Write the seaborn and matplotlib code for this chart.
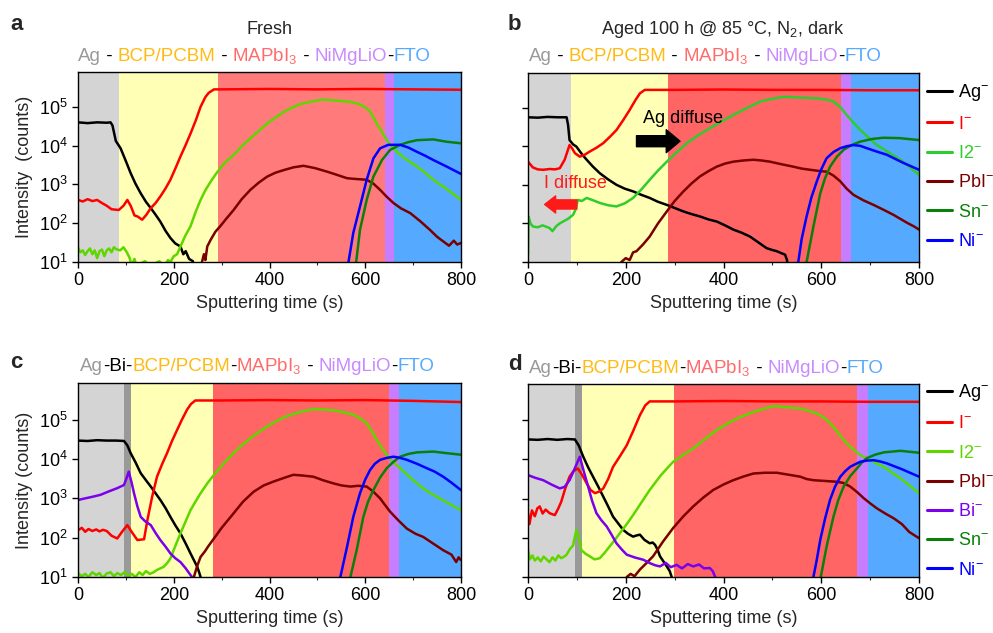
import numpy as np
import pandas as pd
import matplotlib
matplotlib.use("Agg")
import matplotlib.pyplot as plt
import seaborn as sns
from matplotlib.ticker import LogLocator, NullLocator, MultipleLocator
from matplotlib.offsetbox import TextArea, HPacker, AnchoredOffsetbox

# --- data: (time s, log10 counts) ---
A_AG = [(0,4.60),(20,4.58),(40,4.60),(60,4.59),(68,4.60),(72,4.52),(79,4.12),(89,3.93),(100,3.60),(110,3.29),(120,3.02),(131,2.77),(142,2.55),(152,2.39),(162,2.22),(172,2.04),(183,1.80),(193,1.62),(203,1.48),(214,1.40),(220,1.20),(225,1.28),(232,1.08),(240,1.02),(245,0.5)]
A_I = [(0,2.60),(10,2.56),(20,2.62),(30,2.57),(40,2.60),(50,2.52),(60,2.45),(70,2.36),(85,2.34),(95,2.45),(103,2.60),(110,2.45),(118,2.20),(125,2.17),(134,2.09),(143,2.22),(152,2.39),(162,2.52),(172,2.69),(183,2.90),(193,3.12),(203,3.40),(214,3.72),(225,4.02),(235,4.31),(246,4.65),(256,5.00),(266,5.25),(273,5.36),(284,5.45),(300,5.45),(400,5.46),(500,5.45),(600,5.46),(700,5.45),(800,5.44)]
A_I2 = [(0,1.37),(5,1.25),(10,1.30),(15,1.18),(20,1.28),(25,1.35),(30,1.20),(35,1.30),(40,1.10),(45,1.28),(50,1.32),(55,1.15),(60,1.30),(65,1.35),(70,1.25),(75,1.38),(80,1.33),(88,1.30),(95,1.38),(102,1.25),(108,1.10),(112,0.9),(118,1.08),(122,0.9),(140,1.02),(150,0.9),(170,1.02),(180,0.9),(188,1.05),(193,1.0),(200,1.15),(207,1.2),(214,1.40),(225,1.70),(235,1.92),(246,2.30),(256,2.60),(266,2.85),(277,3.07),(287,3.25),(297,3.42),(310,3.60),(325,3.76),(342,3.98),(360,4.19),(378,4.38),(395,4.57),(412,4.72),(430,4.87),(447,4.98),(464,5.07),(490,5.14),(513,5.19),(540,5.16),(569,5.13),(590,5.06),(603,4.96),(610,4.88),(624,4.57),(635,4.35),(645,4.14),(655,3.98),(666,3.84),(685,3.65),(708,3.46),(725,3.30),(742,3.12),(770,2.88),(800,2.60)]
A_PBI = [(255,0.5),(259,1.0),(263,1.2),(266,1.05),(270,1.4),(277,1.57),(287,1.78),(297,1.92),(310,2.12),(325,2.34),(342,2.62),(360,2.86),(378,3.05),(395,3.20),(412,3.30),(430,3.37),(450,3.44),(471,3.48),(495,3.42),(520,3.33),(540,3.25),(562,3.16),(580,3.14),(603,3.12),(617,3.02),(631,2.86),(645,2.68),(659,2.52),(675,2.38),(694,2.26),(715,2.05),(735,1.83),(750,1.65),(763,1.53),(775,1.42),(785,1.55),(792,1.45),(800,1.49)]
A_NI = [(563,0.5),(565,1.0),(575,1.75),(589,2.43),(603,3.12),(617,3.67),(631,3.93),(648,4.02),(673,4.02),(690,3.95),(708,3.84),(725,3.74),(742,3.63),(770,3.46),(800,3.27)]
A_SN = [(579,0.5),(581,1.0),(589,1.83),(603,2.60),(617,3.20),(635,3.63),(652,3.89),(673,4.02),(690,4.09),(708,4.14),(742,4.16),(770,4.10),(785,4.08),(800,4.06)]

B_AG = [(0,4.75),(20,4.74),(40,4.76),(60,4.75),(79,4.75),(82,4.55),(85,4.16),(92,4.05),(99,3.99),(110,3.80),(120,3.65),(133,3.47),(147,3.30),(164,3.14),(181,3.00),(198,2.90),(215,2.83),(232,2.74),(249,2.66),(266,2.56),(284,2.48),(300,2.40),(318,2.31),(335,2.24),(352,2.18),(370,2.10),(386,2.05),(403,1.95),(420,1.84),(437,1.76),(454,1.66),(470,1.52),(488,1.36),(500,1.31),(509,1.28),(520,1.22),(526,1.19),(530,1.05),(532,0.5)]
B_I = [(0,3.60),(10,3.45),(20,3.40),(31,3.39),(45,3.41),(55,3.40),(65,3.43),(75,3.65),(85,4.03),(90,3.95),(96,3.82),(106,3.73),(116,3.78),(126,3.86),(140,3.96),(154,4.08),(168,4.25),(181,4.42),(195,4.68),(208,4.94),(220,5.20),(229,5.37),(239,5.46),(300,5.46),(400,5.47),(500,5.46),(600,5.46),(700,5.45),(800,5.45)]
B_I2 = [(0,1.2),(1,2.18),(5,2.0),(10,1.92),(20,1.90),(30,1.95),(44,1.88),(50,1.80),(58,1.93),(65,2.0),(72,2.05),(82,2.12),(92,2.22),(97,2.35),(102,2.61),(110,2.58),(120,2.66),(133,2.60),(147,2.53),(164,2.47),(181,2.44),(198,2.52),(215,2.66),(232,2.88),(249,3.13),(266,3.37),(284,3.60),(305,3.85),(325,4.08),(345,4.26),(366,4.42),(393,4.62),(420,4.81),(448,4.99),(475,5.16),(500,5.23),(523,5.28),(560,5.26),(591,5.24),(610,5.21),(625,5.16),(640,5.0),(652,4.81),(666,4.61),(680,4.42),(697,4.22),(714,4.03),(738,3.84),(762,3.65),(780,3.47),(800,3.26)]
B_PBI = [(188,0.5),(191,1.0),(200,1.1),(208,1.05),(215,1.25),(222,1.28),(235,1.45),(249,1.66),(266,2.0),(284,2.31),(300,2.58),(318,2.83),(335,3.04),(352,3.22),(370,3.36),(386,3.47),(403,3.55),(420,3.60),(440,3.63),(461,3.65),(478,3.63),(495,3.60),(520,3.53),(543,3.47),(560,3.42),(577,3.39),(595,3.36),(611,3.34),(625,3.24),(639,3.09),(652,2.90),(666,2.74),(686,2.60),(707,2.48),(728,2.35),(748,2.22),(775,2.02),(790,1.92),(800,1.84)]
B_NI = [(552,0.5),(553,1.0),(560,1.6),(570,2.18),(580,2.68),(591,3.09),(600,3.40),(611,3.69),(625,3.85),(639,3.95),(652,4.00),(666,4.03),(680,4.01),(693,3.95),(714,3.86),(734,3.78),(766,3.58),(800,3.39)]
B_SN = [(568,0.5),(570,1.0),(584,1.92),(598,2.78),(608,3.18),(618,3.47),(632,3.73),(646,3.91),(662,4.03),(680,4.12),(705,4.19),(727,4.22),(760,4.21),(800,4.16)]

C_AG = [(0,4.47),(20,4.46),(40,4.48),(60,4.47),(80,4.47),(96,4.46),(103,4.35),(110,4.15),(120,3.92),(131,3.64),(142,3.46),(152,3.30),(162,3.13),(172,2.96),(183,2.75),(193,2.53),(203,2.32),(214,2.11),(225,1.85),(235,1.60),(242,1.43),(249,1.26),(253,1.12),(256,1.0),(258,0.5)]
C_I = [(0,2.19),(8,2.25),(15,2.15),(22,2.22),(30,2.17),(38,2.21),(45,2.16),(52,2.20),(60,2.17),(70,2.05),(82,1.98),(92,2.15),(103,2.32),(112,2.15),(124,1.94),(138,1.96),(145,2.45),(155,3.05),(165,3.55),(176,3.88),(186,4.15),(196,4.45),(207,4.74),(217,5.0),(228,5.26),(236,5.40),(245,5.49),(300,5.49),(400,5.50),(500,5.49),(600,5.50),(700,5.48),(800,5.45)]
C_I2 = [(0,1.10),(8,1.02),(15,1.08),(22,1.0),(30,1.12),(38,1.05),(45,1.10),(52,0.98),(60,1.09),(68,1.12),(75,1.02),(82,1.10),(90,1.05),(98,1.13),(105,1.02),(112,1.08),(120,1.0),(128,1.12),(135,1.05),(142,1.15),(150,1.08),(158,1.12),(165,1.18),(172,1.22),(179,1.26),(186,1.35),(193,1.47),(203,1.78),(214,2.11),(225,2.42),(235,2.70),(246,2.93),(256,3.13),(270,3.38),(284,3.60),(305,3.90),(325,4.15),(342,4.35),(360,4.53),(378,4.69),(395,4.83),(415,4.97),(436,5.09),(462,5.19),(492,5.27),(515,5.26),(534,5.24),(555,5.19),(575,5.13),(590,5.03),(603,4.91),(613,4.72),(624,4.49),(636,4.26),(648,4.06),(660,3.90),(673,3.77),(690,3.57),(708,3.38),(725,3.22),(742,3.09),(770,2.90),(800,2.70)]
C_PBI = [(240,0.5),(242,1.0),(249,1.28),(256,1.51),(265,1.65),(272,1.78),(284,1.98),(300,2.25),(325,2.62),(345,2.92),(367,3.17),(388,3.33),(409,3.43),(430,3.52),(450,3.60),(470,3.58),(492,3.55),(512,3.46),(534,3.38),(550,3.33),(569,3.30),(585,3.32),(603,3.30),(617,3.17),(631,3.00),(642,2.82),(652,2.66),(670,2.43),(687,2.23),(705,2.10),(721,2.02),(742,1.85),(763,1.68),(780,1.57),(790,1.38),(795,1.50),(800,1.43)]
C_BI = [(0,2.96),(15,3.0),(30,3.04),(47,3.09),(65,3.18),(82,3.26),(96,3.34),(101,3.50),(106,3.68),(112,3.40),(117,3.13),(124,2.80),(131,2.53),(140,2.42),(152,2.32),(162,2.12),(172,1.94),(183,1.77),(193,1.60),(203,1.48),(214,1.38),(225,1.22),(232,1.10),(238,1.0),(240,0.5)]
C_NI = [(546,0.5),(548,1.0),(562,1.77),(575,2.53),(589,3.13),(600,3.48),(610,3.72),(620,3.88),(631,3.98),(645,4.03),(659,4.06),(673,4.03),(687,3.98),(708,3.88),(728,3.77),(745,3.68),(763,3.55),(780,3.40),(800,3.21)]
C_SN = [(567,0.5),(569,1.0),(582,1.68),(596,2.53),(606,2.92),(617,3.21),(631,3.53),(645,3.77),(659,3.93),(673,4.06),(690,4.13),(708,4.17),(742,4.19),(770,4.15),(800,4.11)]

D_AG = [(0,4.51),(20,4.50),(40,4.52),(60,4.50),(80,4.52),(96,4.51),(104,4.35),(113,4.07),(123,3.80),(133,3.56),(144,3.30),(154,3.05),(164,2.80),(174,2.54),(185,2.36),(195,2.20),(205,2.10),(215,2.03),(222,2.06),(229,2.08),(238,1.95),(249,1.86),(255,1.88),(260,1.82),(265,1.70),(270,1.53),(277,1.40),(284,1.27),(290,1.15),(294,1.0),(296,0.5)]
D_I = [(0,2.63),(3,2.35),(8,2.70),(14,2.55),(19,2.75),(24,2.80),(30,2.62),(36,2.72),(44,2.63),(50,2.60),(55,2.58),(62,2.75),(68,2.92),(76,3.25),(85,3.56),(93,3.70),(102,3.77),(111,3.60),(120,3.39),(128,3.22),(137,3.14),(146,3.18),(154,3.26),(164,3.50),(174,3.81),(188,4.08),(202,4.36),(215,4.72),(229,5.13),(240,5.38),(249,5.48),(300,5.48),(400,5.49),(500,5.48),(600,5.48),(700,5.47),(800,5.47)]
D_I2 = [(0,1.69),(4,1.45),(9,1.55),(14,1.42),(20,1.50),(26,1.40),(32,1.52),(38,1.45),(44,1.38),(50,1.50),(56,1.42),(62,1.55),(68,1.48),(74,1.52),(79,1.57),(86,1.72),(92,1.80),(99,2.20),(104,2.00),(109,1.69),(117,1.60),(126,1.53),(136,1.45),(147,1.48),(157,1.62),(167,1.78),(178,1.95),(188,2.12),(202,2.35),(215,2.58),(232,2.90),(249,3.22),(272,3.60),(297,3.94),(318,4.12),(338,4.28),(362,4.52),(386,4.75),(410,4.93),(434,5.08),(468,5.24),(502,5.36),(530,5.33),(557,5.30),(580,5.22),(598,5.13),(612,5.0),(625,4.83),(638,4.62),(652,4.41),(666,4.25),(680,4.11),(704,3.96),(728,3.81),(745,3.66),(762,3.52),(780,3.34),(800,3.14)]
D_PBI = [(200,0.5),(202,1.0),(210,1.08),(218,1.02),(229,1.19),(242,1.35),(256,1.53),(276,1.90),(297,2.25),(318,2.55),(338,2.80),(358,3.02),(379,3.22),(400,3.36),(420,3.47),(440,3.56),(461,3.64),(485,3.66),(509,3.66),(533,3.61),(557,3.56),(570,3.50),(584,3.47),(608,3.45),(632,3.43),(645,3.40),(659,3.31),(673,3.17),(687,3.01),(700,2.88),(714,2.75),(731,2.62),(748,2.50),(765,2.35),(780,2.15),(800,1.99)]
D_BI = [(0,3.60),(15,3.53),(31,3.47),(48,3.36),(65,3.26),(75,3.30),(85,3.47),(95,3.75),(106,4.07),(114,3.70),(123,3.31),(131,2.95),(140,2.63),(150,2.45),(161,2.29),(171,2.08),(181,1.86),(192,1.70),(202,1.57),(218,1.50),(236,1.44),(250,1.35),(260,1.30),(270,1.27),(282,1.36),(292,1.25),(304,1.31),(315,1.22),(327,1.33),(338,1.27),(350,1.32),(360,1.22),(372,1.23),(378,1.15),(383,1.0),(385,0.5)]
D_NI = [(582,0.5),(584,1.0),(591,1.45),(598,1.95),(608,2.50),(618,2.97),(628,3.30),(639,3.56),(649,3.70),(659,3.81),(670,3.88),(680,3.94),(693,3.97),(707,3.98),(720,3.95),(734,3.90),(765,3.75),(800,3.56)]
D_SN = [(597,0.5),(599,1.0),(611,1.78),(625,2.54),(635,2.97),(646,3.31),(659,3.57),(673,3.77),(683,3.92),(693,4.03),(710,4.12),(728,4.18),(762,4.22),(800,4.17)]

# layer boundaries (s)
A_LAYERS = [0, 85, 293, 642, 660, 800]
B_LAYERS = [0, 87, 287, 641, 661, 800]
C_LAYERS = [0, 96, 110, 283, 649, 670, 800]
D_LAYERS = [0, 96, 111, 299, 673, 695, 800]

LBL = {'ag': 'Ag$^{-}$', 'i': 'I$^{-}$', 'i2': 'I2$^{-}$', 'pbi': 'PbI$^{-}$',
       'bi': 'Bi$^{-}$', 'sn': 'Sn$^{-}$', 'ni': 'Ni$^{-}$'}

sns.set_theme(style="ticks")
plt.rcParams['font.family'] = ['Liberation Sans', 'DejaVu Sans']
plt.rcParams['mathtext.default'] = 'regular'
plt.rcParams['axes.linewidth'] = 1.0
plt.rcParams['axes.edgecolor'] = 'black'

GRAY, DGRAY, YEL, PUR, BLU = '#d4d4d4', '#999999', '#ffffb5', '#c77dff', '#55aaff'


def frame(series):
    rows = []
    for name, pts in series:
        for t, lg in pts:
            rows.append((LBL[name], t, 10 ** lg))
    return pd.DataFrame(rows, columns=['ion', 't', 'counts'])


def draw(ax, series, palette, layers, colors, ymax, legend=False, left=True):
    for x0, x1, c in zip(layers[:-1], layers[1:], colors):
        ax.axvspan(x0, x1, color=c, lw=0, zorder=0)
    ax.set_yscale('log')
    df = frame(series)
    order = [LBL[n] for n, _ in series]
    pal = {LBL[n]: palette[n] for n, _ in series}
    sns.lineplot(data=df, x='t', y='counts', hue='ion', hue_order=order, palette=pal,
                 estimator=None, sort=False, lw=1.8, ax=ax, legend=legend)
    ax.set_xlim(0, 800)
    ax.set_ylim(10, ymax)
    ax.yaxis.set_major_locator(LogLocator(base=10, numticks=10))
    ax.yaxis.set_minor_locator(NullLocator())
    ax.xaxis.set_major_locator(MultipleLocator(200))
    ax.xaxis.set_minor_locator(MultipleLocator(100))
    ax.tick_params(which='major', direction='out', length=4, width=1, labelsize=13, colors='black')
    ax.tick_params(which='minor', direction='out', length=2.5, width=0.8)
    ax.set_xlabel('Sputtering time (s)', fontsize=13)
    if not left:
        ax.tick_params(axis='y', labelleft=False)
        ax.set_ylabel('')
    for s in ax.spines.values():
        s.set_color('black')
    if legend:
        sns.move_legend(ax, 'upper left', bbox_to_anchor=legend, frameon=False, title=None,
                        fontsize=13, handlelength=1.4, handletextpad=0.35, labelspacing=0.68,
                        borderpad=0, borderaxespad=0)
        leg = ax.get_legend()
        for line, txt in zip(leg.get_lines(), leg.get_texts()):
            line.set_linewidth(2.2)
            txt.set_color(line.get_color())


def layer_title(fig, x, y, parts, size=13.5):
    boxes = [TextArea(t, textprops=dict(color=c, fontsize=size)) for t, c in parts]
    pack = HPacker(children=boxes, align='baseline', pad=0, sep=0)
    ab = AnchoredOffsetbox(loc='lower left', child=pack, pad=0, borderpad=0, frameon=False,
                           bbox_to_anchor=(x, y), bbox_transform=fig.transFigure)
    fig.add_artist(ab)


fig = plt.figure(figsize=(9.93, 6.33), dpi=100)
W, H = 993, 633
ax_a = fig.add_axes([78 / W, (H - 262) / H, 383 / W, 190 / H])
ax_b = fig.add_axes([528 / W, (H - 262) / H, 391 / W, 189 / H])
ax_c = fig.add_axes([78 / W, (H - 577) / H, 383 / W, 194 / H])
ax_d = fig.add_axes([528 / W, (H - 577) / H, 391 / W, 193 / H])

pal_a = {'ag': 'black', 'i': '#ff0000', 'i2': '#5ed600', 'pbi': '#7a0000', 'sn': '#0a800a', 'ni': '#0000ff', 'bi': '#7a00ee'}
pal_b = dict(pal_a, i2='#2ecc2e')

draw(ax_a, [('ag', A_AG), ('i', A_I), ('i2', A_I2), ('pbi', A_PBI), ('sn', A_SN), ('ni', A_NI)],
     pal_a, A_LAYERS, [GRAY, YEL, '#ff7b7b', PUR, BLU], 7.9e5)
ax_a.set_ylabel('Intensity  (counts)', fontsize=13)

draw(ax_b, [('ag', B_AG), ('i', B_I), ('i2', B_I2), ('pbi', B_PBI), ('sn', B_SN), ('ni', B_NI)],
     pal_b, B_LAYERS, [GRAY, YEL, '#ff6565', PUR, BLU], 7.9e5, legend=(1.02, 0.95), left=False)

draw(ax_c, [('ag', C_AG), ('i', C_I), ('i2', C_I2), ('pbi', C_PBI), ('bi', C_BI), ('sn', C_SN), ('ni', C_NI)],
     pal_a, C_LAYERS, [GRAY, DGRAY, YEL, '#ff6565', PUR, BLU], 8.6e5)
ax_c.set_ylabel('Intensity (counts)', fontsize=13)

draw(ax_d, [('ag', D_AG), ('i', D_I), ('i2', D_I2), ('pbi', D_PBI), ('bi', D_BI), ('sn', D_SN), ('ni', D_NI)],
     pal_a, D_LAYERS, [GRAY, DGRAY, YEL, '#ff6565', PUR, BLU], 8.4e5, legend=(1.02, 1.01), left=False)

# annotations in panel b
ax_b.text(235, 5.2e4, 'Ag diffuse', fontsize=13, va='center', ha='left', color='black')
ax_b.annotate('', xy=(311, 1.35e4), xytext=(222, 1.35e4),
              arrowprops=dict(arrowstyle='simple,head_length=0.45,head_width=0.75,tail_width=0.36',
                              color='black', mutation_scale=22, shrinkA=0, shrinkB=0))
ax_b.text(33, 1.1e3, 'I diffuse', fontsize=13, va='center', ha='left', color='#ff1a1a')
ax_b.annotate('', xy=(34, 310), xytext=(100, 310),
              arrowprops=dict(arrowstyle='simple,head_length=0.36,head_width=0.56,tail_width=0.3',
                              color='#ff1a1a', mutation_scale=22, shrinkA=0, shrinkB=0))

# titles
fig.text(269 / W, 1 - 30 / H, 'Fresh', ha='center', va='center', fontsize=13)
fig.text(723 / W, 1 - 30 / H, 'Aged 100 h @ 85 °C, N$_2$, dark', ha='center', va='center', fontsize=13)

OR, SAL = '#ffbb11', '#ff6b6b'
layer_title(fig, 78 / W, 1 - 66 / H, [('Ag', '#999999'), (' - ', 'black'), ('BCP/PCBM', OR), (' - ', 'black'),
                                      ('MAPbI$_3$', SAL), (' - ', 'black'), ('NiMgLiO', '#c98aff'), ('-', 'black'), ('FTO', BLU)])
layer_title(fig, 529 / W, 1 - 66 / H, [('Ag', '#999999'), (' - ', 'black'), ('BCP/PCBM', OR), (' - ', 'black'),
                                       ('MAPbI$_3$', SAL), (' - ', 'black'), ('NiMgLiO', '#c98aff'), ('-', 'black'), ('FTO', BLU)])
c_parts = [('Ag', '#999999'), ('-Bi-', 'black'), ('BCP/PCBM', OR), ('-', 'black'),
           ('MAPbI$_3$', SAL), (' - ', 'black'), ('NiMgLiO', '#c98aff'), ('-', 'black'), ('FTO', BLU)]
layer_title(fig, 80 / W, 1 - 376 / H, c_parts)
layer_title(fig, 529 / W, 1 - 378 / H, c_parts)

for lab, x, y in [('a', 10, 24), ('b', 508, 24), ('c', 10, 363), ('d', 508, 364)]:
    fig.text(x / W, 1 - y / H, lab, fontsize=16, fontweight='bold', va='center', ha='left')

fig.savefig('out.png', dpi=100)
